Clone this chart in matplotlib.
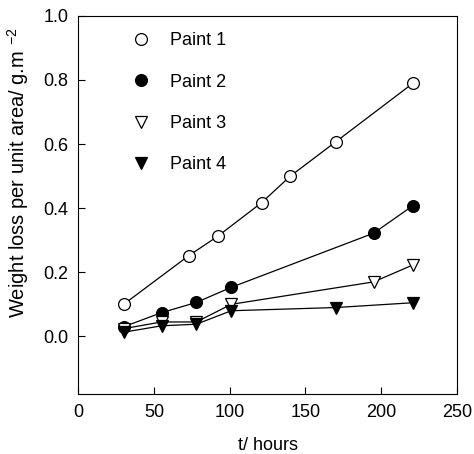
import matplotlib
matplotlib.use("Agg")
import matplotlib.pyplot as plt

plt.rcParams['font.family'] = ['Liberation Sans', 'DejaVu Sans']

# exposure time (hours) and weight loss (g/m2) for each paint
t_paint1 = [30, 73, 92, 121, 140, 170, 221]
w_paint1 = [0.10, 0.252, 0.312, 0.417, 0.50, 0.607, 0.79]

t_paint2 = [30, 55, 78, 101, 195, 221]
w_paint2 = [0.03, 0.074, 0.106, 0.153, 0.322, 0.408]

t_paint3 = [30, 55, 78, 101, 195, 221]
w_paint3 = [0.024, 0.045, 0.045, 0.10, 0.17, 0.223]

t_paint4 = [30, 55, 78, 101, 170, 221]
w_paint4 = [0.013, 0.033, 0.038, 0.08, 0.09, 0.105]

labels = ['Paint 1', 'Paint 2', 'Paint 3', 'Paint 4']
x_ticks = [0, 50, 100, 150, 200, 250]
y_ticks = [0.0, 0.2, 0.4, 0.6, 0.8, 1.0]

fig = plt.figure(figsize=(4.74, 4.54), dpi=100)
ax = fig.add_axes([0.165, 0.132, 0.799, 0.833])

styles = [
    dict(marker='o', mfc='white'),
    dict(marker='o', mfc='black'),
    dict(marker='v', mfc='white'),
    dict(marker='v', mfc='black'),
]
series = [(t_paint1, w_paint1), (t_paint2, w_paint2),
          (t_paint3, w_paint3), (t_paint4, w_paint4)]

handles = []
for (t, w), st, lab in zip(series, styles, labels):
    ax.plot(t, w, color='black', lw=0.9, zorder=2)
    h = ax.plot(t, w, ls='none', marker=st['marker'], mfc=st['mfc'],
                mec='black', mew=0.9, ms=8.5, zorder=3, label=lab)[0]
    handles.append(h)

ax.set_xlim(0, 250)
ax.set_ylim(-0.18, 1.0)
ax.set_xticks(x_ticks)
ax.set_yticks(y_ticks)
ax.set_yticklabels([f"{v:.1f}" for v in y_ticks])
ax.tick_params(direction='in', length=5, labelsize=13, pad=7,
               top=False, right=False)

ax.set_xlabel('t/ hours', fontsize=13, labelpad=12)
ax.set_ylabel('Weight loss per unit area/ g.m $^{\\mathregular{-2}}$',
              fontsize=14.5)
ax.yaxis.set_label_coords(-0.125, 0.585)

leg = ax.legend(handles=handles, loc='upper left', frameon=False,
                bbox_to_anchor=(0.10, 1.0), fontsize=13, numpoints=1,
                handlelength=1.0, handletextpad=1.1, labelspacing=1.35)

fig.savefig('out.png', dpi=100)
